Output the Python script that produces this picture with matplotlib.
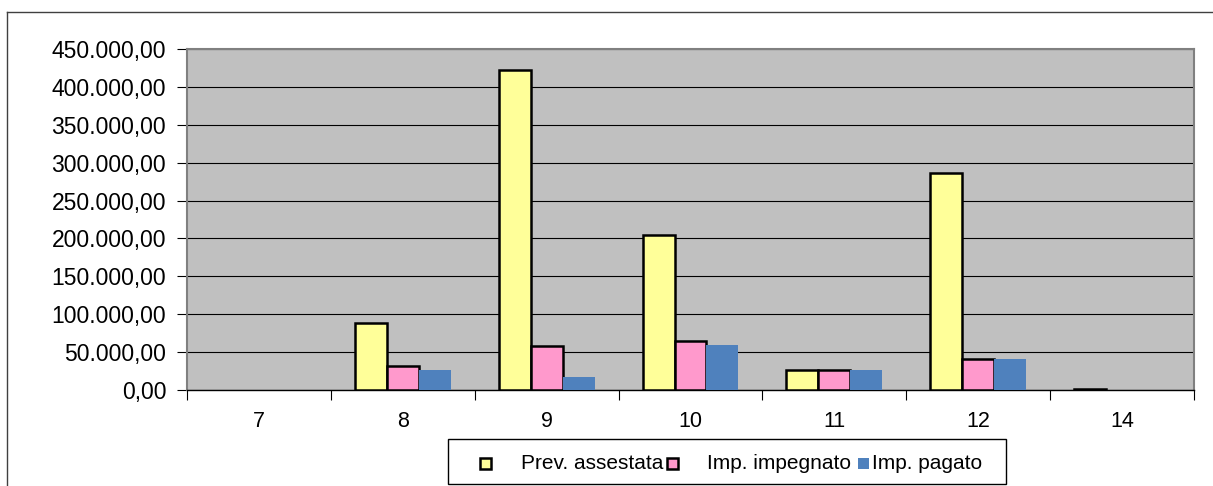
import matplotlib
matplotlib.use("Agg")
import matplotlib.pyplot as plt
from matplotlib.ticker import FuncFormatter, FixedLocator
from matplotlib.patches import Rectangle
from matplotlib.lines import Line2D
import numpy as np

plt.rcParams['font.family'] = ['Liberation Sans', 'DejaVu Sans']

categories = ["7", "8", "9", "10", "11", "12", "14"]
series_names = ["Prev. assestata", "Imp. impegnato", "Imp. pagato"]
prev_assestata = [0, 88800, 422000, 204500, 26400, 286000, 1500]
imp_impegnato = [0, 32000, 58000, 65000, 26400, 40500, 0]
imp_pagato = [0, 26400, 17200, 59400, 26000, 40500, 0]
y_ticks = [0, 50000, 100000, 150000, 200000, 250000, 300000, 350000, 400000, 450000]

W, H = 1213, 486
fig = plt.figure(figsize=(W / 100, H / 100), dpi=100)
fig.patch.set_facecolor('white')

def fx(px):
    return px / W

def fy(py):
    return 1 - py / H

# outer chart border (left + top visible)
fig.add_artist(Line2D([fx(7), fx(7)], [fy(12), 0], color='#404040', lw=1.0))
fig.add_artist(Line2D([fx(7), 1], [fy(12), fy(12)], color='#404040', lw=1.0))

left, right, top, bottom = 187, 1194, 49, 390
ax = fig.add_axes([fx(left), fy(bottom), fx(right - left), (bottom - top) / H])
ax.set_facecolor('#C0C0C0')

x = np.arange(len(categories))
w = 0.222
colors = ['#FFFF99', '#FF99CC', '#4F81BD']
data = [prev_assestata, imp_impegnato, imp_pagato]
for k, (vals, c) in enumerate(zip(data, colors)):
    lws = [1.8 if (k < 2 and v > 0) else 0 for v in vals]
    ax.bar(x + (k - 1) * w, vals, w, color=c,
           edgecolor='black' if k < 2 else 'none', linewidth=lws, zorder=3)

ax.set_xlim(-0.5, len(categories) - 0.5)
ax.set_ylim(0, 450000)
ax.set_yticks(y_ticks)
ax.yaxis.set_major_formatter(FuncFormatter(
    lambda v, p: f"{v:,.2f}".replace(",", "X").replace(".", ",").replace("X", ".")))
ax.yaxis.grid(True, color='black', linewidth=0.8, zorder=1)
ax.set_axisbelow(True)

ax.xaxis.set_major_locator(FixedLocator(np.arange(-0.5, len(categories), 1.0)))
ax.xaxis.set_minor_locator(FixedLocator(x))
ax.set_xticklabels([])
ax.set_xticklabels(categories, minor=True)
ax.tick_params(axis='x', which='major', length=7, width=0.8, color='black', direction='out')
ax.tick_params(axis='x', which='minor', length=0, pad=15, labelsize=15.5)
ax.tick_params(axis='y', length=7, width=0.8, color='black', pad=8, labelsize=16.5)

for s in ['top', 'right', 'left']:
    ax.spines[s].set_color('#808080')
    ax.spines[s].set_linewidth(1.5)
ax.spines['bottom'].set_color('black')
ax.spines['bottom'].set_linewidth(1.0)

# legend box drawn manually (Excel style)
lx0, lx1, ly0, ly1 = 448, 1006, 439, 484
fig.add_artist(Rectangle((fx(lx0), fy(ly1)), fx(lx1 - lx0), (ly1 - ly0) / H,
                         facecolor='white', edgecolor='black', lw=1.0, transform=fig.transFigure))
marker_x = [480, 667, 858]
text_x = [521, 707, 872]
cy = 463.5
for k in range(3):
    ec = 'black' if k < 2 else colors[k]
    lwm = 1.8 if k < 2 else 0
    fig.add_artist(Rectangle((fx(marker_x[k]), fy(cy + 5.5)), fx(10.5), 11 / H,
                             facecolor=colors[k], edgecolor=ec, lw=lwm, transform=fig.transFigure))
    fig.text(fx(text_x[k]), fy(cy), series_names[k], fontsize=15, va='center', ha='left')

fig.savefig('out.png', dpi=100)
